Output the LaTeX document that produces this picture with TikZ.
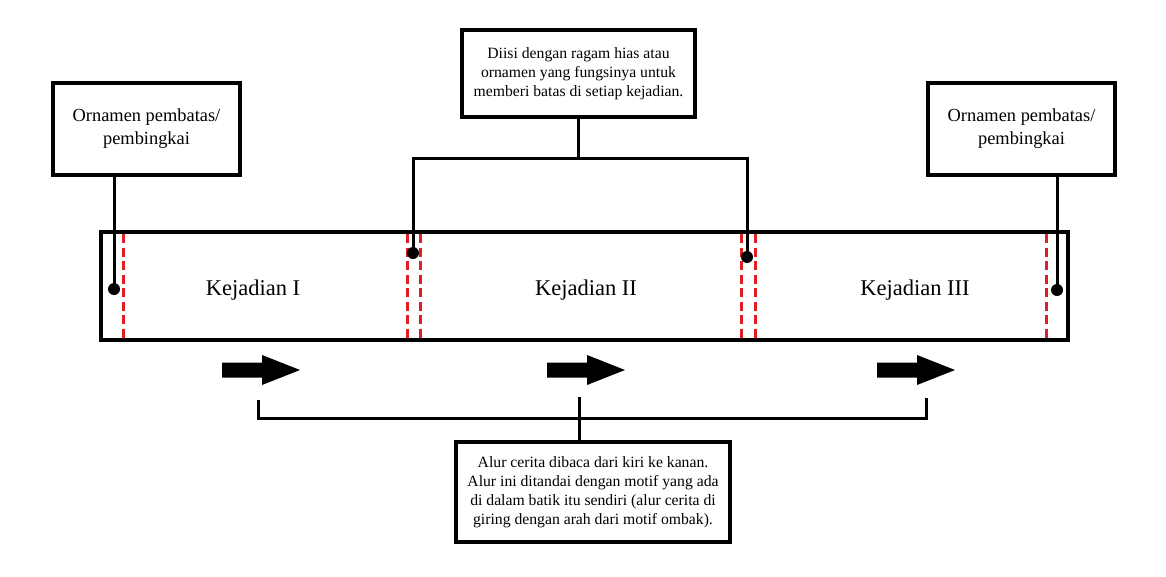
\documentclass[tikz,border=0pt]{standalone}
\usepackage{fontspec}
\setmainfont{Liberation Serif}
\definecolor{dashred}{RGB}{225,30,35}
\begin{document}
\begin{tikzpicture}[x=1pt,y=-1pt,
  note/.style={draw=black, line width=3.5pt, fill=white, align=center, inner sep=0pt},
  sidefont/.style={font=\fontsize{18.4}{23}\selectfont},
  smallfont/.style={font=\fontsize{15.7}{19}\selectfont},
  eventfont/.style={font=\fontsize{22.5}{27}\selectfont},
  conn/.style={line width=3pt, line join=miter},
  reddash/.style={draw=dashred, line width=3pt, dash pattern=on 9pt off 4.5pt},
  dotm/.style={circle, fill=black, inner sep=0pt, minimum size=12pt},
  blockarrow/.pic={\fill[black] (0,-7.5) -- (40,-7.5) -- (40,-15) -- (78,0) -- (40,15) -- (40,7.5) -- (0,7.5) -- cycle;}]
\useasboundingbox (0,0) rectangle (1166,576);

% red dashed separators
\draw[reddash] (123,234) -- (123,340);
\draw[reddash] (407,234) -- (407,340);
\draw[reddash] (420,234) -- (420,340);
\draw[reddash] (741,234) -- (741,340);
\draw[reddash] (755,234) -- (755,340);
\draw[reddash] (1046,234) -- (1046,340);

% main strip
\node[draw, line width=3.5pt, minimum width=967pt, minimum height=108pt, inner sep=0pt] (strip) at (584.5,286) {};

% event labels
\node[eventfont] (k1) at (253,290) {Kejadian I};
\node[eventfont] (k2) at (586,290) {Kejadian II};
\node[eventfont] (k3) at (915,290) {Kejadian III};

% annotation boxes
\node[note, sidefont, minimum width=187pt, minimum height=92pt] (lbox) at (146.5,129) {Ornamen pembatas/\\pembingkai};
\node[note, sidefont, minimum width=187pt, minimum height=92pt] (rbox) at (1021.5,129) {Ornamen pembatas/\\pembingkai};
\node[note, smallfont, minimum width=233pt, minimum height=87pt] (tbox) at (578.5,73.5) {Diisi dengan ragam hias atau\\ornamen yang fungsinya untuk\\memberi batas di setiap kejadian.};
\node[note, smallfont, minimum width=274pt, minimum height=100pt] (bbox) at (593,492) {Alur cerita dibaca dari kiri ke kanan.\\Alur ini ditandai dengan motif yang ada\\di dalam batik itu sendiri (alur cerita di\\giring dengan arah dari motif ombak).};

% dots
\node[dotm] (d1) at (114,289) {};
\node[dotm] (d2) at (413,253) {};
\node[dotm] (d3) at (747,257) {};
\node[dotm] (d4) at (1057,290) {};

% side connectors
\draw[conn] (d1 |- lbox.south) -- (d1.center);
\draw[conn] (d4 |- rbox.south) -- (d4.center);

% top bracket
\coordinate (tj) at (578.5,158);
\draw[conn] (tbox.south) -- (tj);
\draw[conn] (d2.center) |- (tj) -| (d3.center);

% flow arrows
\pic at (222,370) {blockarrow};
\pic at (547,370) {blockarrow};
\pic at (877,370) {blockarrow};

% bottom bracket
\coordinate (bl) at (258,400);
\coordinate (br) at (926,398);
\coordinate (bj) at (579,418);
\coordinate (btop) at (579,397);
\draw[conn] (bl) |- (bj) -| (br);
\draw[conn] (btop) -- (btop |- bbox.north);
\end{tikzpicture}
\end{document}
